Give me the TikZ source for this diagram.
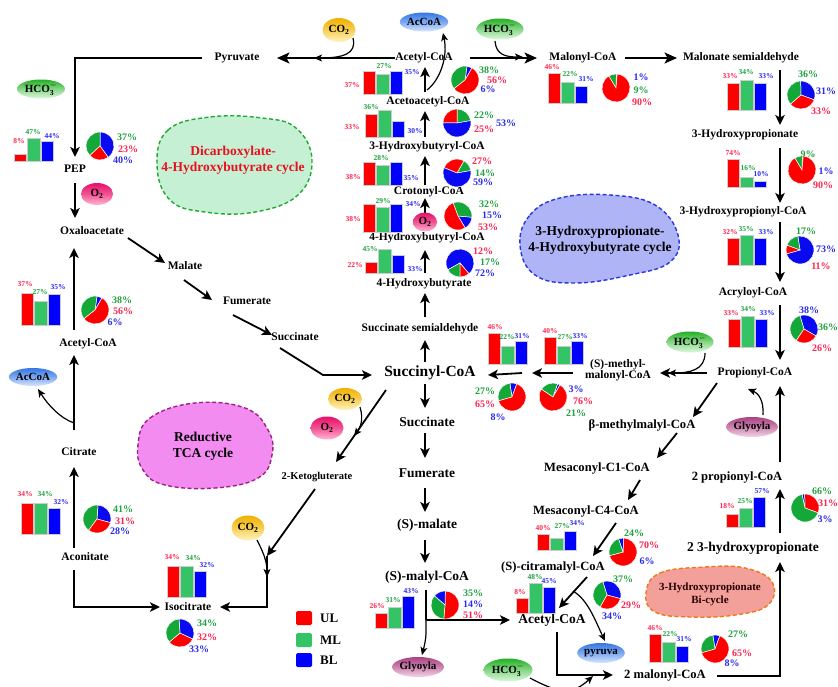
\documentclass[tikz,border=0pt]{standalone}
\usepackage{fontspec}
\setmainfont{Liberation Serif}
\usetikzlibrary{arrows.meta,shapes.geometric,calc}
\definecolor{cR}{HTML}{FF0000}
\definecolor{cG}{HTML}{34C466}
\definecolor{cB}{HTML}{0000FF}
\definecolor{pR}{HTML}{FF0000}
\definecolor{pG}{HTML}{14A838}
\definecolor{pB}{HTML}{0A0AF0}
\definecolor{tR}{HTML}{FF2450}
\definecolor{tG}{HTML}{1FA23F}
\definecolor{tB}{HTML}{2A2AF0}
\definecolor{co2T}{HTML}{F0B000}
\definecolor{co2B}{HTML}{FFF4C0}
\definecolor{hcoT}{HTML}{22B022}
\definecolor{hcoB}{HTML}{DDF8DD}
\definecolor{o2T}{HTML}{E8106A}
\definecolor{o2B}{HTML}{FFB8D4}
\definecolor{accT}{HTML}{3577E4}
\definecolor{accB}{HTML}{D8E6FF}
\definecolor{glyT}{HTML}{AA4282}
\definecolor{glyB}{HTML}{F4D4E6}
\definecolor{dicF}{HTML}{C6F0D4}
\definecolor{dicD}{HTML}{22AA33}
\definecolor{redF}{HTML}{F28CF0}
\definecolor{redD}{HTML}{A0208A}
\definecolor{bluF}{HTML}{AEB4F6}
\definecolor{bluD}{HTML}{2A36E0}
\definecolor{bicF}{HTML}{F4A09A}
\definecolor{bicD}{HTML}{F07818}
\definecolor{dicT}{HTML}{E8101E}
\newcounter{lbc}
\newcommand\lab[5]{\stepcounter{lbc}\node[#1,text=#4] (lb\arabic{lbc}) at (#2,#3) {#5\%};}
\newcommand\hcotext{HCO$_{\mathbf{3}}^{\mathbf{-}}$}
\newcommand\bars[5]{%
 \path[fill=cR,draw=black!20,line width=.4pt] (#1,#2) rectangle (#1+12.5,#3);
 \path[fill=cG,draw=black!20,line width=.4pt] (#1+13.5,#2) rectangle (#1+26,#4);
 \path[fill=cB,draw=black!20,line width=.4pt] (#1+27,#2) rectangle (#1+39.5,#5);}
\newcommand\piechart[8]{%
 \begin{scope}[shift={(#1,#2)},yscale=-1]
 \pgfmathsetmacro\pieA{#3}
 \pgfmathsetmacro\pieB{#3+3.6*#4}
 \pgfmathsetmacro\pieC{#3+3.6*(#4+#6)}
 \pgfmathsetmacro\pieD{#3+360}
 \path[fill=#5,draw=white,line width=.5pt] (0,0) -- (\pieA:14) arc[start angle=\pieA,end angle=\pieB,radius=14] -- cycle;
 \path[fill=#7,draw=white,line width=.5pt] (0,0) -- (\pieB:14) arc[start angle=\pieB,end angle=\pieC,radius=14] -- cycle;
 \path[fill=#8,draw=white,line width=.5pt] (0,0) -- (\pieC:14) arc[start angle=\pieC,end angle=\pieD,radius=14] -- cycle;
 \end{scope}}
\begin{document}
\begin{tikzpicture}[x=1pt,y=-1pt,
 lbl/.style={font=\fontsize{11.5}{11}\selectfont\bfseries, inner sep=0pt},
 lblM/.style={font=\fontsize{12.6}{13}\selectfont\bfseries, inner sep=0pt},
 lblL/.style={font=\fontsize{13.5}{14}\selectfont\bfseries, inner sep=0pt},
 lblS/.style={font=\fontsize{10.5}{11}\selectfont\bfseries, inner sep=0pt},
 lblXL/.style={font=\fontsize{15.5}{16}\selectfont\bfseries, inner sep=0pt},
 bl/.style={font=\fontsize{7.5}{8}\selectfont\bfseries, inner sep=0pt},
 pl/.style={font=\fontsize{10}{10}\selectfont\bfseries, inner sep=0pt},
 ell/.style={ellipse, inner sep=0pt, font=\fontsize{11}{11}\selectfont\bfseries},
 co2/.style={ell, top color=co2T, bottom color=co2B, middle color=co2T!55!co2B, minimum width=33pt, minimum height=24pt},
 hco/.style={ell, top color=hcoT, bottom color=hcoB, middle color=hcoT!45!hcoB, minimum width=47pt, minimum height=21pt},
 oxy/.style={ell, top color=o2T, bottom color=o2B, middle color=o2T!60!o2B, minimum width=32pt, minimum height=22pt},
 acc/.style={ell, top color=accT, bottom color=accB, middle color=accT!55!accB, minimum width=46pt, minimum height=19pt},
 gly/.style={ell, top color=glyT, bottom color=glyB, middle color=glyT!55!glyB, minimum width=45pt, minimum height=20pt},
 bt/.style={font=\fontsize{13.5}{16}\selectfont\bfseries, align=center, inner sep=0pt},
 ln/.style={line width=1.8pt},
 arr/.style={ln, -{Stealth[length=10pt,width=9.5pt,inset=2.5pt]}},
 arrB/.style={ln, -{Stealth[length=12.5pt,width=11pt,inset=3pt]}},
 curv/.style={line width=1.2pt, -{Stealth[length=8pt,width=7pt,inset=2pt]}},
 blob/.style={line width=1.4pt, dash pattern=on 4pt off 2.5pt},
 legbox/.style={minimum width=16pt, minimum height=14pt, rounded corners=1.5pt, inner sep=0pt},
 legt/.style={font=\fontsize{13}{13}\selectfont\bfseries, inner sep=0pt, anchor=west}]
\useasboundingbox[fill=white] (0,0) rectangle (838,686);

% ---------- blobs ----------
\draw[blob, fill=dicF, draw=dicD] plot[smooth cycle, tension=0.7] coordinates {(157,165) (168,130) (210,117) (262,118) (296,128) (312,160) (298,195) (255,212) (205,212) (170,200)};
\draw[blob, fill=redF, draw=redD] plot[smooth cycle, tension=0.7] coordinates {(138,445) (150,418) (195,403) (245,408) (268,430) (272,455) (258,478) (215,488) (165,485) (143,470)};
\draw[blob, fill=bluF, draw=bluD] plot[smooth cycle, tension=0.7] coordinates {(520,245) (530,215) (560,198) (610,195) (655,205) (678,235) (670,262) (630,275) (575,283) (535,275)};
\draw[blob, fill=bicF, draw=bicD] plot[smooth cycle, tension=0.7] coordinates {(646,593) (660,573) (705,567) (745,568) (772,582) (768,605) (735,615) (690,617) (655,612)};
\node[bt, text=dicT] (dct) at (233,160) {Dicarboxylate-\\4-Hydroxybutyrate cycle};
\node[bt] (rtc) at (203,446) {Reductive\\TCA cycle};
\node[bt] (hht) at (600,240) {3-Hydroxypropionate-\\4-Hydroxybutyrate cycle};
\node[font=\fontsize{11}{13}\selectfont\bfseries, align=center, inner sep=0pt, text=black!85!red] (bct) at (710,594) {3-Hydroxypropionate\\Bi-cycle};

% ---------- metabolite labels ----------
\node[lbl] (pyr) at (237,58) {Pyruvate};
\node[lbl] (acT) at (424,58) {Acetyl-CoA};
\node[lbl] (mal) at (583,58) {Malonyl-CoA};
\node[lbl] (msa) at (741,58) {Malonate semialdehyde};
\node[lbl] (aac) at (428,102) {Acetoacetyl-CoA};
\node[lbl] (hbc) at (427,147) {3-Hydroxybutyryl-CoA};
\node[lbl] (cro) at (429,192) {Crotonyl-CoA};
\node[lbl] (hbcoa) at (427,238) {4-Hydroxybutyryl-CoA};
\node[lbl] (hb) at (424,284) {4-Hydroxybutyrate};
\node[lbl] (ssa) at (420,329) {Succinate semialdehyde};
\node[lblXL] (sucoa) at (430,373) {Succinyl-CoA};
\node[lblL] (succ2) at (427,422) {Succinate};
\node[lblL] (fum2) at (427,473) {Fumerate};
\node[lblL] (smal) at (427,525) {(S)-malate};
\node[lblL] (smc) at (427,577) {(S)-malyl-CoA};
\node[lbl] (pep) at (75,169) {PEP};
\node[lbl] (oaa) at (92,231) {Oxaloacetate};
\node[lbl] (mala) at (185,266) {Malate};
\node[lbl] (fum1) at (247,301) {Fumerate};
\node[lbl] (suc1) at (295,337) {Succinate};
\node[lbl] (acL) at (88,344) {Acetyl-CoA};
\node[lbl] (cit) at (79,452) {Citrate};
\node[lbl] (aco) at (85,557) {Aconitate};
\node[lbl] (iso) at (188,607) {Isocitrate};
\node[lblS] (kg) at (317,477) {2-Ketogluterate};
\node[lbl] (hp3) at (745,135) {3-Hydroxypropionate};
\node[lbl] (hpc) at (743,212) {3-Hydroxypropionyl-CoA};
\node[lbl] (acr) at (753,293) {Acryloyl-CoA};
\node[lbl] (pro) at (755,373) {Propionyl-CoA};
\node[lbl, align=center] (mmc) at (618,370) {(S)-methyl-\\malonyl-CoA};
\node[lblM] (bmm) at (642,425) {β-methylmalyl-CoA};
\node[lblM] (mc1) at (597,468) {Mesaconyl-C1-CoA};
\node[lblM] (mc4) at (586,511) {Mesaconyl-C4-CoA};
\node[lblM] (cit2) at (553,567) {(S)-citramalyl-CoA};
\node[lblL] (acB) at (552,620) {Acetyl-CoA};
\node[lblM] (mal2) at (665,675) {2 malonyl-CoA};
\node[lblL] (hp2) at (753,548) {2 3-hydroxypropionate};
\node[lblM] (pro2) at (737,477) {2 propionyl-CoA};
\coordinate (mid) at (527,373);
\coordinate (kj) at ($(iso)+(79,-51)$);
\coordinate (jm) at ($(smc.center |- acB.center)+(-1,0)$);

% ---------- arrows ----------
\draw[arrB] ($(acT)+(-29,0)$) -- ($(pyr)+(40,0)$);
\draw[arrB] ($(acT)+(46,0)$) -- ($(mal)+(-46,0)$);
\draw[arrB] ($(mal)+(42,0)$) -- ($(msa)+(-64,0)$);
\draw[arr] ($(pyr)+(-35,0)$) -| ($(pep)+(0,-12)$);
\draw[arr] ($(pep)+(0,14)$) -- ($(pep |- oaa)+(0,-13)$);
\draw[arr] ($(acL)+(-14,-14)$) -- ($(oaa)+(-18,17)$);
\draw[arr] ($(cit)+(-5,-22)$) -- ($(acL)+(-14,11)$);
\draw[arr] ($(aco)+(-11,-9)$) -- ($(cit)+(-5,15)$);
\draw[arr] ($(aco)+(-11,13)$) |- ($(iso)+(-28,0)$);
\draw[arr] ($(oaa)+(36,7)$) -- ($(mala)+(-20,-3)$);
\draw[arr] ($(mala)+(-1,14)$) -- ($(fum1)+(-35,-1)$);
\draw[arr] ($(fum1)+(-14,14)$) -- ($(suc1)+(-23,-2)$);
\draw[arr] ($(suc1)+(-15,11)$) -- ($(sucoa)+(-107,2)$) -- ($(sucoa)+(-58,2)$);
\draw[arr] ($(sucoa)+(-44,17)$) -- ($(kg)+(19,-15)$);
\draw[arr] ($(kg)+(-2,12)$) -- (kj);
\draw[arr] (kj) |- ($(iso)+(32,0)$);
% centre column
\draw[arr] ($(hb)+(1,-11)$) -- ($(hbcoa)+(-2,12)$);
\draw[arr] ($(hbcoa)+(-2,-8)$) -- ($(cro)+(-4,6)$);
\draw[arr] ($(cro)+(-4,-7)$) -- ($(hbc)+(-2,9)$);
\draw[arr] ($(hbc)+(-2,-10)$) -- ($(aac)+(-3,9)$);
\draw[arr] ($(aac)+(-3,-10)$) -- ($(acT)+(1,9)$);
\draw[arr] ($(ssa)+(5,-12)$) -- ($(hb)+(1,9)$);
\draw[arr] ($(sucoa)+(-5,-11)$) -- ($(ssa)+(5,11)$);
\draw[arr] ($(sucoa)+(-5,11)$) -- ($(succ2)+(-2,-14)$);
\draw[arr] ($(succ2)+(-2,11)$) -- ($(fum2)+(-2,-15)$);
\draw[arr] ($(fum2)+(-2,15)$) -- ($(smal)+(-2,-13)$);
\draw[arr] ($(smal)+(-2,15)$) -- ($(smc)+(-2,-14)$);
\draw[ln] ($(smc)+(-1,13)$) -- (jm);
\draw[arr] (jm) -- ($(acB)+(-42,0)$);
% right column
\draw[arr] ($(msa)+(39,12)$) -- ($(hp3)+(35,-10)$);
\draw[arr] ($(hp3)+(35,13)$) -- ($(hpc)+(37,-9)$);
\draw[arr] ($(hpc)+(37,10)$) -- ($(acr)+(27,-11)$);
\draw[arr] ($(acr)+(27,12)$) -- ($(pro)+(25,-13)$);
\draw[arr] ($(pro2)+(43,-15)$) -- ($(pro)+(25,13)$);
\draw[arr] ($(hp2)+(27,-15)$) -- ($(pro2)+(43,12)$);
\draw[arr] ($(mal2)+(52,1)$) -| ($(hp2)+(27,14)$);
\draw[arr] ($(pro)+(-48,0)$) -- ($(mmc)+(42,3)$);
\draw[arr] ($(mmc)+(-45,3)$) -- ($(mid)+(5,0)$);
\draw[arr] ($(mid)+(-5,0)$) -- ($(sucoa)+(58,2)$);
\draw[arr] ($(pro)+(-38,10)$) -- ($(bmm)+(51,-8)$);
\draw[arr] ($(bmm)+(35,8)$) -- ($(mc1)+(60,-10)$);
\draw[arr] ($(mc1)+(43,12)$) -- ($(mc4)+(42,-11)$);
\draw[arr] ($(mc4)+(30,12)$) -- ($(cit2)+(40,-11)$);
\draw[arr] ($(cit2)+(34,10)$) -- ($(acB)+(7,-12)$);
\draw[arr] ($(acB)+(5,12)$) |- ($(mal2)+(-52,0)$);

% ---------- cofactor ellipses ----------
\node[co2] (co2a) at (339,30) {CO\textsubscript{2}};
\node[acc, minimum width=45pt] (accoaT) at (424,22) {AcCoA};
\node[hco] (hco3a) at (500,29) {\hcotext};
\node[oxy, minimum width=24pt, minimum height=19pt] (o2b) at (425,222) {O\textsubscript{2}};
\node[hco, minimum width=48pt, minimum height=19pt] (hco3b) at (41,89) {\hcotext};
\node[oxy] (o2a) at (97,194) {O\textsubscript{2}};
\node[acc, minimum width=47pt, minimum height=18pt] (accoaL) at (33,377) {AcCoA};
\node[co2, minimum width=34pt, minimum height=22pt] (co2b) at (345,399) {CO\textsubscript{2}};
\node[oxy, minimum width=33pt, minimum height=23pt] (o2c) at (327,428) {O\textsubscript{2}};
\node[co2, minimum height=25pt] (co2c) at (248,528) {CO\textsubscript{2}};
\node[hco] (hco3c) at (690,342) {\hcotext};
\node[gly, minimum width=44pt] (gly2) at (752,427) {Glyoyla};
\node[gly, minimum width=47pt] (gly1) at (418,667) {Glyoyla};
\node[acc, minimum width=47pt, minimum height=20pt] (pyru) at (601,653) {pyruva};
\node[hco, minimum width=49pt, minimum height=23pt] (hco3d) at (508,670) {\hcotext};

% ---------- curved side arrows ----------
\draw[curv] ($(co2a)+(14,8)$) .. controls ($(co2a)+(18,24)$) and ($(co2a)+(4,28)$) .. ($(co2a)+(-25,28)$);
\draw[curv] ($(hco3a)+(-5,12)$) .. controls ($(hco3a)+(-4,26)$) and ($(hco3a)+(6,28)$) .. ($(hco3a)+(23,28)$);
\draw[curv] ($(aac)+(-1,-12)$) .. controls ($(aac)+(12,-22)$) and ($(aac)+(20,-45)$) .. ($(accoaT)+(19,11)$);
\draw[curv] ($(cit)+(-5,-29)$) .. controls ($(cit)+(-19,-34)$) and ($(cit)+(-31,-47)$) .. ($(accoaL)+(5,12)$);
\draw[curv] ($(co2b)+(15,8)$) .. controls ($(co2b)+(19,21)$) and ($(co2b)+(15,29)$) .. ($(co2b)+(9,37)$);
\draw[curv] ($(co2c)+(9,12)$) .. controls ($(co2c)+(14,22)$) and ($(co2c)+(19,32)$) .. ($(kj)+(0,21)$);
\draw[curv] ($(hco3c)+(15,11)$) .. controls ($(hco3c)+(15,28)$) and ($(hco3c)+(0,31)$) .. ($(mmc)+(50,3)$);
\draw[curv] ($(gly2)+(11,-12)$) .. controls ($(gly2)+(12,-27)$) and ($(gly2)+(6,-34)$) .. ($(pro)+(-7,16)$);
\draw[curv] ($(cit2)+(20,24)$) .. controls ($(cit2)+(35,33)$) and ($(cit2)+(42,53)$) .. ($(pyru)+(4,-12)$);
\draw[curv] (jm) -- ++(0,12) .. controls +(0,8) and +(2,-8) .. ($(gly1)+(4,-12)$);
\draw[curv] ($(hco3d)+(22,8)$) .. controls ($(hco3d)+(52,24)$) and ($(hco3d)+(64,25)$) .. ($(mal2)+(-72,1)$);

% ---------- bars ----------
\bars{363}{94}{71}{74}{71}
\bars{365}{137}{114}{110}{121}
\bars{363}{185}{162}{165}{162}
\bars{363}{232}{204}{207}{204}
\bars{365}{273}{262}{249}{255}
\bars{548}{103}{73}{82}{86}
\bars{727}{110}{83}{80}{83}
\bars{727}{187}{159}{177}{181}
\bars{727}{265}{238}{235}{238}
\bars{728}{347}{319}{316}{319}
\bars{726}{527}{514}{508}{497}
\bars{649}{662}{634}{642}{646}
\bars{537}{550}{534}{538}{531}
\bars{516}{613}{598}{583}{587}
\bars{375}{628}{613}{607}{596}
\bars{488}{364}{333}{346}{341}
\bars{544}{364}{337}{346}{341}
\bars{14}{161}{154}{138}{141}
\bars{21}{325}{293}{301}{294}
\bars{21}{534}{503}{503}{508}
\bars{167}{597}{566}{566}{571}

% ---------- bar labels ----------
\lab{bl}{352}{85}{tR}{37}\lab{bl}{384}{66}{tG}{27}\lab{bl}{412}{72}{tB}{35}
\lab{bl}{352}{127}{tR}{33}\lab{bl}{371}{107}{tG}{36}\lab{bl}{415}{131}{tB}{30}
\lab{bl}{353}{177}{tR}{38}\lab{bl}{381}{158}{tG}{28}\lab{bl}{411}{178}{tB}{35}
\lab{bl}{353}{219}{tR}{38}\lab{bl}{383}{201}{tG}{29}\lab{bl}{413}{204}{tB}{34}
\lab{bl}{355}{265}{tR}{22}\lab{bl}{370}{249}{tG}{45}\lab{bl}{415}{269}{tB}{33}
\lab{bl}{552}{67}{tR}{46}\lab{bl}{570}{74}{tG}{22}\lab{bl}{586}{79}{tB}{31}
\lab{bl}{730}{76}{tR}{33}\lab{bl}{746}{72}{tG}{34}\lab{bl}{766}{76}{tB}{33}
\lab{bl}{733}{153}{tR}{74}\lab{bl}{748}{168}{tG}{16}\lab{bl}{761}{174}{tB}{10}
\lab{bl}{730}{232}{tR}{32}\lab{bl}{746}{229}{tG}{35}\lab{bl}{766}{232}{tB}{33}
\lab{bl}{731}{313}{tR}{33}\lab{bl}{748}{309}{tG}{34}\lab{bl}{767}{313}{tB}{33}
\lab{bl}{727}{506}{tR}{18}\lab{bl}{745}{501}{tG}{25}\lab{bl}{762}{491}{tB}{57}
\lab{bl}{655}{628}{tR}{46}\lab{bl}{670}{634}{tG}{22}\lab{bl}{684}{639}{tB}{31}
\lab{bl}{543}{528}{tR}{40}\lab{bl}{562}{526}{tG}{27}\lab{bl}{577}{523}{tB}{34}
\lab{bl}{520}{592}{tR}{8}\lab{bl}{535}{577}{tG}{48}\lab{bl}{549}{581}{tB}{45}
\lab{bl}{377}{606}{tR}{26}\lab{bl}{393}{600}{tG}{31}\lab{bl}{411}{591}{tB}{43}
\lab{bl}{495}{327}{tR}{46}\lab{bl}{507}{337}{tG}{22}\lab{bl}{522}{336}{tB}{31}
\lab{bl}{550}{331}{tR}{40}\lab{bl}{565}{337}{tG}{27}\lab{bl}{580}{336}{tB}{33}
\lab{bl}{19}{141}{tR}{8}\lab{bl}{33}{132}{tG}{47}\lab{bl}{52}{136}{tB}{44}
\lab{bl}{25}{284}{tR}{37}\lab{bl}{40}{292}{tG}{27}\lab{bl}{58}{287}{tB}{35}
\lab{bl}{25}{494}{tR}{34}\lab{bl}{45}{494}{tG}{34}\lab{bl}{61}{502}{tB}{32}
\lab{bl}{172}{557}{tR}{34}\lab{bl}{193}{558}{tG}{34}\lab{bl}{207}{565}{tB}{32}

% ---------- pies ----------
\piechart{465}{80}{60}{6}{pB}{38}{pG}{pR}
\piechart{457}{123}{10}{22}{pG}{25}{pR}{pB}
\piechart{457}{173}{10}{14}{pG}{27}{pR}{pB}
\piechart{458}{216}{-59}{15}{pB}{32}{pG}{pR}
\piechart{460}{263}{-50}{72}{pB}{17}{pG}{pR}
\piechart{616}{88}{85}{1}{pB}{9}{pG}{pR}
\piechart{801}{95}{-20}{31}{pB}{36}{pG}{pR}
\piechart{802}{170}{85}{1}{pB}{9}{pG}{pR}
\piechart{800}{250}{-164}{73}{pB}{17}{pG}{pR}
\piechart{804}{329}{-30}{38}{pB}{36}{pG}{pR}
\piechart{95}{310}{60}{6}{pB}{38}{pG}{pR}
\piechart{100}{146}{-54}{40}{pB}{37}{pG}{pR}
\piechart{97}{519}{-15}{28}{pB}{41}{pG}{pR}
\piechart{180}{633}{-140}{32}{pR}{33}{pB}{pG}
\piechart{445}{605}{-95}{51}{pR}{14}{pB}{pG}
\piechart{512}{397}{70}{8}{pB}{27}{pG}{pR}
\piechart{553}{397}{60}{3}{pB}{21}{pG}{pR}
\piechart{623}{552}{-165}{70}{pR}{6}{pB}{pG}
\piechart{607}{595}{-15}{34}{pB}{37}{pG}{pR}
\piechart{715}{649}{70}{8}{pB}{27}{pG}{pR}
\piechart{805}{508}{-20}{31}{pR}{3}{pB}{pG}

% ---------- pie labels ----------
\lab{pl}{489}{70}{tG}{38}\lab{pl}{497}{80}{tR}{56}\lab{pl}{488}{89}{tB}{6}
\lab{pl}{484}{115}{tG}{22}\lab{pl}{506}{123}{tB}{53}\lab{pl}{484}{129}{tR}{25}
\lab{pl}{482}{161}{tR}{27}\lab{pl}{485}{173}{tG}{14}\lab{pl}{483}{182}{tB}{59}
\lab{pl}{489}{204}{tG}{32}\lab{pl}{492}{215}{tB}{15}\lab{pl}{488}{227}{tR}{53}
\lab{pl}{483}{251}{tR}{12}\lab{pl}{490}{262}{tG}{17}\lab{pl}{485}{273}{tB}{72}
\lab{pl}{641}{77}{tB}{1}\lab{pl}{641}{90}{tG}{9}\lab{pl}{642}{102}{tR}{90}
\lab{pl}{808}{74}{tG}{36}\lab{pl}{826}{91}{tB}{31}\lab{pl}{821}{111}{tR}{33}
\lab{pl}{808}{154}{tG}{9}\lab{pl}{826}{171}{tB}{1}\lab{pl}{823}{185}{tR}{90}
\lab{pl}{806}{231}{tG}{17}\lab{pl}{826}{249}{tB}{73}\lab{pl}{821}{266}{tR}{11}
\lab{pl}{809}{310}{tB}{38}\lab{pl}{828}{327}{tG}{36}\lab{pl}{822}{348}{tR}{26}
\lab{pl}{122}{300}{tG}{38}\lab{pl}{123}{311}{tR}{56}\lab{pl}{115}{322}{tB}{6}
\lab{pl}{127}{137}{tG}{37}\lab{pl}{128}{149}{tR}{23}\lab{pl}{123}{160}{tB}{40}
\lab{pl}{123}{509}{tG}{41}\lab{pl}{125}{521}{tR}{31}\lab{pl}{120}{531}{tB}{28}
\lab{pl}{207}{623}{tG}{34}\lab{pl}{207}{637}{tR}{32}\lab{pl}{199}{649}{tB}{33}
\lab{pl}{473}{593}{tG}{35}\lab{pl}{473}{604}{tB}{14}\lab{pl}{473}{615}{tR}{51}
\lab{pl}{485}{391}{tG}{27}\lab{pl}{485}{404}{tR}{65}\lab{pl}{498}{417}{tB}{8}
\lab{pl}{576}{389}{tB}{3}\lab{pl}{583}{401}{tR}{76}\lab{pl}{576}{413}{tG}{21}
\lab{pl}{634}{533}{tG}{24}\lab{pl}{649}{545}{tR}{70}\lab{pl}{647}{561}{tB}{6}
\lab{pl}{623}{579}{tG}{37}\lab{pl}{631}{605}{tR}{29}\lab{pl}{612}{616}{tB}{34}
\lab{pl}{738}{634}{tG}{27}\lab{pl}{742}{653}{tR}{65}\lab{pl}{732}{663}{tB}{8}
\lab{pl}{822}{491}{tG}{66}\lab{pl}{828}{503}{tR}{31}\lab{pl}{825}{519}{tB}{3}

% ---------- legend ----------
\node[legbox, fill=cR] (lgR) at (304,618) {};
\node[legbox, fill=cG] (lgG) at (304,640) {};
\node[legbox, fill=cB] (lgB) at (304,660) {};
\node[legt] (lgRt) at (320,618) {UL};
\node[legt] (lgGt) at (320,640) {ML};
\node[legt] (lgBt) at (320,660) {BL};
\end{tikzpicture}
\end{document}
